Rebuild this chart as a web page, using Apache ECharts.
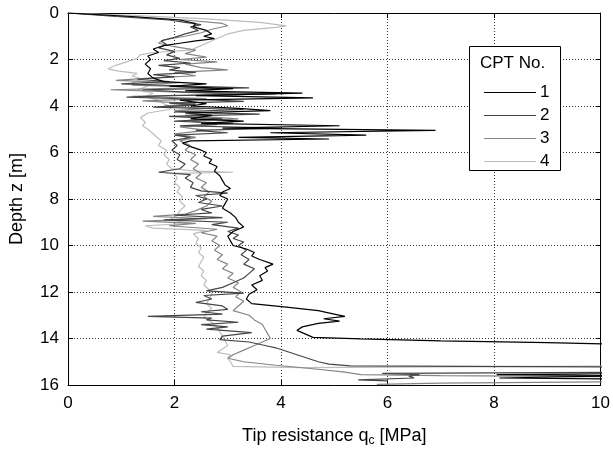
<!DOCTYPE html>
<html>
<head>
<meta charset="utf-8">
<script src="https://cdn.jsdelivr.net/npm/echarts@6/dist/echarts.min.js"></script>
<style>html,body{margin:0;padding:0;background:#fff}#c{width:613px;height:452px}</style>
</head>
<body>
<div id="c"></div>
<script>
// ---- data: depth z [m] and tip resistance qc [MPa] per CPT ----
var depth1 = [0,0.15,0.3,0.45,0.6,0.75,0.9,1.0,1.1,1.2,1.3,1.4,1.55,1.7,1.85,2.0,2.2,2.4,2.6,2.8,2.95,3.05,3.15,3.25,3.35,3.45,3.55,3.65,3.75,3.9,4.0,4.1,4.2,4.3,4.4,4.55,4.65,4.75,4.85,4.95,5.05,5.15,5.25,5.35,5.42,5.5,5.6,5.75,5.9,6.0,6.15,6.3,6.45,6.6,6.8,7.0,7.2,7.4,7.55,7.7,7.85,8.0,8.2,8.4,8.6,8.8,9.0,9.2,9.4,9.6,9.8,10.0,10.15,10.3,10.45,10.6,10.8,10.95,11.1,11.3,11.5,11.7,11.9,12.1,12.3,12.5,12.65,12.8,12.95,13.05,13.15,13.25,13.35,13.5,13.65,13.8,13.95,14.02,14.1,14.18,14.25,14.8,15.5,15.55,15.6,15.66,15.7,15.75];
var qc1    = [0,1.2,2.1,2.4,2.35,2.6,2.7,2.55,2.75,2.4,2.1,1.8,1.6,1.7,1.5,1.55,1.45,1.55,1.5,1.6,1.8,2.6,1.9,3.1,2.2,4.4,2.4,4.6,2.1,2.6,2.3,3.2,3.8,2.2,2.7,2.3,3.3,2.5,5.1,2.9,6.9,3.8,5.6,3.2,4.9,2.3,2.15,2.3,2.5,2.6,2.55,2.7,2.65,2.8,2.75,2.85,2.9,2.95,3.05,2.9,2.85,3.0,2.95,2.9,3.05,3.15,3.2,3.3,3.1,3.0,3.05,3.1,3.35,3.5,3.45,3.6,3.85,3.7,3.75,3.6,3.65,3.45,3.55,3.4,3.35,3.45,4.1,4.7,5.0,5.2,4.8,5.1,4.7,4.4,4.3,4.45,4.6,5.5,7.0,9.0,10.5,11,11,8.05,10.5,10.5,8.1,10.5];

var depth2 = [0,0.15,0.3,0.4,0.5,0.6,0.75,0.9,1.05,1.2,1.35,1.5,1.65,1.8,1.95,2.05,2.15,2.25,2.35,2.45,2.55,2.65,2.75,2.85,2.95,3.05,3.15,3.22,3.3,3.4,3.48,3.55,3.62,3.7,3.8,3.88,3.95,4.05,4.15,4.25,4.35,4.45,4.55,4.65,4.75,4.85,4.95,5.05,5.15,5.25,5.35,5.5,5.7,5.9,6.1,6.3,6.5,6.7,6.85,6.95,7.1,7.3,7.5,7.65,7.75,7.85,8.0,8.15,8.3,8.45,8.6,8.7,8.8,8.9,9.0,9.1,9.25,9.4,9.55,9.7,9.85,10.0,10.2,10.4,10.6,10.8,11.0,11.2,11.4,11.6,11.8,11.95,12.05,12.15,12.3,12.45,12.6,12.75,12.85,12.95,13.05,13.12,13.2,13.3,13.4,13.5,13.6,13.75,13.9,14.05,14.15,14.3,14.4,14.55,14.7,14.85,15.0,15.1,15.18,15.2,15.22,15.45,15.5,15.55,15.62,15.7,15.78,15.82];
var qc2    = [0,0.9,1.9,2.2,2.5,2.3,2.45,2.2,2.0,1.75,1.85,1.7,2.0,1.85,2.1,1.8,2.3,1.7,2.1,1.9,2.4,1.6,2.0,1.3,1.9,1.0,2.4,3.4,1.4,2.2,3.9,1.9,1.1,2.3,3.3,1.9,2.4,1.6,3.3,2.0,3.6,1.9,2.9,2.0,3.1,2.1,4.0,2.4,3.0,2.0,2.3,1.95,2.05,1.95,2.1,2.05,2.2,2.1,1.7,2.3,2.2,2.35,2.3,2.5,3.0,2.4,2.6,2.45,2.9,2.5,2.7,2.0,2.9,1.8,3.0,2.7,3.2,3.0,3.2,3.1,3.3,3.2,3.35,3.25,3.4,3.3,3.5,3.4,3.3,3.1,2.9,2.6,3.3,2.55,2.7,2.4,2.9,3.0,2.5,2.9,1.5,2.7,2.6,3.2,2.5,3.0,2.6,3.45,2.9,2.85,3.4,3.7,3.9,4.1,4.3,4.5,4.7,4.9,5.3,7.5,10.5,11,5.9,6.6,6.4,6.5,5.45,6.0];

var depth3 = [0,0.15,0.3,0.45,0.55,0.7,0.85,1.0,1.15,1.3,1.45,1.6,1.75,1.9,2.0,2.1,2.2,2.35,2.45,2.55,2.7,2.8,2.9,3.0,3.1,3.2,3.3,3.4,3.5,3.58,3.68,3.78,3.9,4.0,4.1,4.2,4.3,4.4,4.55,4.65,4.8,4.9,5.05,5.2,5.35,5.5,5.7,5.9,6.1,6.3,6.5,6.7,6.9,7.1,7.3,7.5,7.7,7.9,8.1,8.3,8.5,8.65,8.75,8.85,8.95,9.05,9.15,9.3,9.45,9.6,9.8,10.0,10.2,10.4,10.6,10.8,11.0,11.2,11.4,11.6,11.8,12.0,12.2,12.4,12.6,12.8,13.0,13.2,13.4,13.6,13.8,14.0,14.15,14.3,14.5,14.7,14.85,15.0,15.15,15.3,15.45,15.55,15.6,15.65,15.85,15.92,15.97];
var qc3    = [0,1.1,2.2,2.9,3.0,2.7,2.5,2.2,1.8,1.7,2.0,2.4,2.2,2.6,2.1,2.8,2.2,2.5,3.0,2.0,2.4,1.5,0.9,2.1,1.2,2.7,0.8,2.1,3.3,1.2,2.6,1.4,2.4,1.8,2.6,2.0,2.9,2.2,3.2,2.3,2.8,2.1,2.6,2.0,2.4,2.1,2.3,2.2,2.4,2.3,2.45,2.35,2.5,2.4,2.6,2.5,2.65,2.55,2.7,2.6,2.4,2.2,1.6,2.6,1.4,2.4,1.9,2.8,2.5,2.8,2.7,2.85,2.75,2.9,2.8,3.0,2.9,3.1,3.0,3.2,3.1,3.25,3.15,3.3,3.2,3.1,3.4,3.5,3.65,3.7,3.75,3.8,3.65,3.5,3.3,3.1,3.0,3.3,3.9,4.6,5.2,5.5,7.0,10.5,11,7.0,5.8];

var depth4 = [0,0.1,0.25,0.4,0.55,0.62,0.75,0.9,1.1,1.3,1.5,1.6,1.7,1.8,1.95,2.1,2.25,2.4,2.5,2.6,2.7,2.85,3.0,3.15,3.3,3.45,3.6,3.75,3.9,4.05,4.15,4.3,4.5,4.7,4.85,5.0,5.1,5.3,5.5,5.7,5.9,6.1,6.3,6.5,6.7,6.8,6.85,6.9,7.1,7.3,7.5,7.7,7.9,8.1,8.3,8.5,8.7,8.9,9.05,9.15,9.25,9.35,9.5,9.7,9.9,10.1,10.3,10.5,10.7,10.9,11.1,11.3,11.5,11.7,11.9,12.1,12.3,12.5,12.7,12.9,13.1,13.3,13.5,13.7,13.9,14.1,14.3,14.45,14.6,14.7,14.85,15.0,15.2,15.25,15.22,15.18];
var qc4    = [0,1.2,2.6,3.6,4.1,3.9,3.3,3.0,2.8,2.6,2.4,2.3,1.6,1.35,1.3,1.1,0.9,0.75,0.95,1.3,1.2,1.4,1.2,1.5,1.3,1.6,1.45,1.7,1.8,1.95,1.9,1.5,1.36,1.45,1.4,1.5,1.55,1.65,1.75,1.7,1.85,1.8,1.9,1.85,1.95,2.4,3.1,2.0,2.05,2.0,2.1,2.05,2.15,2.1,2.2,2.1,2.05,1.9,2.3,1.45,1.6,2.6,2.35,2.45,2.4,2.5,2.45,2.55,2.5,2.45,2.55,2.5,2.6,2.55,2.65,2.7,2.65,2.6,2.7,2.6,2.55,2.7,2.8,2.85,2.9,2.95,3.0,2.9,2.8,3.05,3.0,3.05,3.1,4.4,7.0,10.5];

var cptNames = ['1','2','3','4'];
var cptColors = ['#000000','#454545','#858585','#bdbdbd'];
var xTicks = {min:0, max:10, interval:2};
var yTicks = {min:0, max:16, interval:2};

function pairs(z, q){ var out=[]; for (var i=0;i<z.length;i++) out.push([q[i], z[i]]); return out; }
var allDepth = [depth1, depth2, depth3, depth4];
var allQc = [qc1, qc2, qc3, qc4];

var font = 'Liberation Sans, Arial, Helvetica, sans-serif';
var gridLine = {show:true, lineStyle:{color:'#333', type:[1,2], width:1}};

var series = cptNames.map(function(n, i){
  return {
    name: n, type:'line', data: pairs(allDepth[i], allQc[i]),
    symbol:'none', showSymbol:false, clip:true, animation:false,
    lineStyle:{color:cptColors[i], width:1.2}, itemStyle:{color:cptColors[i]},
    z: 10 - i
  };
});

var chart = echarts.init(document.getElementById('c'), null, {renderer:'canvas'});
chart.setOption({
  animation:false,
  backgroundColor:'#fff',
  grid:{left:67, right:9, top:13, bottom:64, containLabel:false},
  xAxis:[{
    type:'value', min:xTicks.min, max:xTicks.max, interval:xTicks.interval, position:'bottom',
    name:'Tip resistance q{sub|c} [MPa]', nameLocation:'middle', nameGap:40,
    nameTextStyle:{fontFamily:font, fontSize:18, color:'#000', rich:{sub:{fontFamily:font, fontSize:12, color:'#000', padding:[10,0,0,0]}}},
    axisLine:{show:true, onZero:false, lineStyle:{color:'#000', width:1}},
    axisTick:{show:true, inside:true, length:5, lineStyle:{color:'#000'}},
    axisLabel:{fontFamily:font, fontSize:17, color:'#000', margin:10},
    splitLine:gridLine
  },{
    type:'value', min:xTicks.min, max:xTicks.max, interval:xTicks.interval, position:'top',
    axisLine:{show:true, onZero:false, lineStyle:{color:'#000', width:1}},
    axisTick:{show:true, inside:true, length:5, lineStyle:{color:'#000'}},
    axisLabel:{show:false}, splitLine:{show:false}
  }],
  yAxis:[{
    type:'value', inverse:true, min:yTicks.min, max:yTicks.max, interval:yTicks.interval, position:'left',
    name:'Depth z [m]', nameLocation:'middle', nameGap:42,
    nameTextStyle:{fontFamily:font, fontSize:18, color:'#000'},
    axisLine:{show:true, onZero:false, lineStyle:{color:'#000', width:1}},
    axisTick:{show:true, inside:true, length:5, lineStyle:{color:'#000'}},
    axisLabel:{fontFamily:font, fontSize:17, color:'#000', margin:9},
    splitLine:gridLine
  },{
    type:'value', inverse:true, min:yTicks.min, max:yTicks.max, interval:yTicks.interval, position:'right',
    axisLine:{show:true, onZero:false, lineStyle:{color:'#000', width:1}},
    axisTick:{show:true, inside:true, length:5, lineStyle:{color:'#000'}},
    axisLabel:{show:false}, splitLine:{show:false}
  }],
  legend:{
    data:cptNames, orient:'vertical', left:479, top:79,
    itemWidth:52, itemHeight:17, itemGap:6, icon:'path://M0,8 L52,8 L52,9 L0,9 Z',
    textStyle:{fontFamily:font, fontSize:17, lineHeight:17, height:17, color:'#000', padding:[0,0,0,-1]},
    z:20
  },
  graphic:[
    {type:'rect', left:469, top:46, z:15, shape:{width:91, height:124}, style:{fill:'#fff', stroke:'#000', lineWidth:1}},
    {type:'text', left:480, top:55, z:16, style:{text:'CPT No.', font:'17px ' + font, fill:'#000'}}
  ],
  series: series
});
</script>
</body>
</html>
